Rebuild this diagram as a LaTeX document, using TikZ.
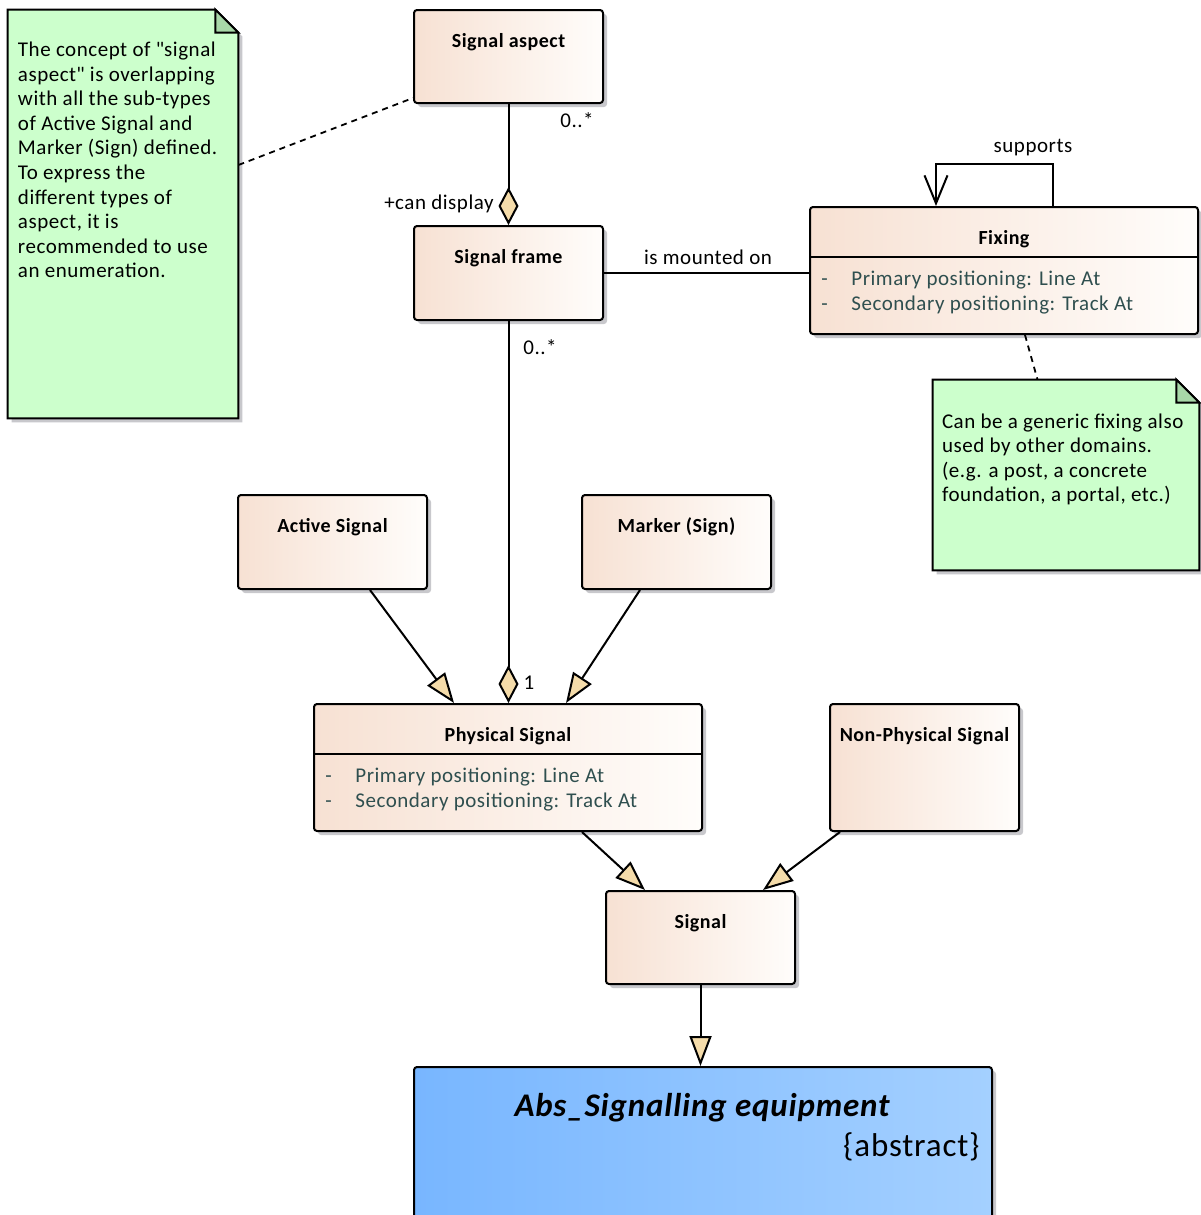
\documentclass[tikz,border=0pt]{standalone}
\usepackage{fontspec}
\setmainfont{Carlito}[LetterSpace=2.5]
\usetikzlibrary{arrows.meta,positioning,fit,calc,shadows}
\definecolor{clsleft}{HTML}{F7E1D3}
\definecolor{clsright}{HTML}{FFFDFB}
\definecolor{absleft}{HTML}{78B6FF}
\definecolor{absright}{HTML}{A4D0FF}
\definecolor{notegreen}{HTML}{CCFFCC}
\definecolor{notefold}{HTML}{A8D8A8}
\definecolor{tipfill}{HTML}{F5DCAA}
\definecolor{attrtxt}{HTML}{2F4F4F}
\definecolor{shade}{HTML}{C8C8CC}

\begin{document}
\begin{tikzpicture}[x=0.5pt,y=-0.5pt,font=\fontsize{10.5}{12.3}\selectfont,
cls/.style={rounded corners=1.5pt,draw=black,line width=1pt,left color=clsleft,right color=clsright,inner sep=0pt,
  drop shadow={shadow xshift=2pt,shadow yshift=-2pt,opacity=1,fill=shade}},
ttl/.style={font=\fontsize{10}{12}\selectfont\bfseries,anchor=base,yshift=-19pt},
attr/.style={align=left,inner sep=0pt,anchor=north west,text=attrtxt,font=\fontsize{10.5}{12.5}\selectfont},
paper/.style={fill=notegreen,draw=black,line width=1pt,drop shadow={shadow xshift=2pt,shadow yshift=-2pt,opacity=1,fill=shade}},
fold/.style={fill=notefold,draw=black,line width=1pt},
memo/.style={align=left,inner sep=0pt,anchor=north west},
link/.style={line width=1pt},
agg/.style={link,-{Diamond[length=19pt,width=10pt,fill=tipfill]}},
gen/.style={link,-{Triangle[length=15pt,width=11pt,fill=tipfill]}},
nav/.style={link,-{Straight Barb[length=14pt,width=11.5pt]}},
noteline/.style={line width=0.9pt,dash pattern=on 3pt off 2.5pt},
role/.style={inner sep=0pt}]
  \fill[white] (0,0) rectangle (1200,1215);
  \useasboundingbox (0,0) rectangle (1200,1215);

  \node[cls,fit={(414,10)(603,103)},label={[ttl]north:Signal aspect}] (aspect) {};
  \node[cls,fit={(414,226)(603,320)},label={[ttl]north:Signal frame}] (frame) {};
  \node[cls,fit={(810,207)(1198,334)},label={[ttl]north:Fixing}] (fixing) {};
  \node[cls,fit={(238,495)(427,589)},label={[ttl]north:Active Signal}] (active) {};
  \node[cls,fit={(582,495)(771,589)},label={[ttl]north:Marker (Sign)}] (marker) {};
  \node[cls,fit={(314,704)(702,831)},label={[ttl]north:Physical Signal}] (phys) {};
  \node[cls,fit={(830,704)(1019,831)},label={[ttl]north:Non-Physical Signal}] (nonphys) {};
  \node[cls,fit={(606,891)(795,984)},label={[ttl]north:Signal}] (signal) {};
  \node[cls,left color=absleft,right color=absright,fit={(414,1067)(992,1250)}] (equipment) {};

  \draw[line width=1pt] ([yshift=-25.5pt]fixing.north west) -- ([yshift=-25.5pt]fixing.north east);
  \draw[line width=1pt] ([yshift=-25.5pt]phys.north west) -- ([yshift=-25.5pt]phys.north east);
  \node[attr] (fixingattr) at ([shift={(6pt,-32.5pt)}]fixing.north west) {\makebox[15pt][l]{-}Primary positioning: Line At\\\makebox[15pt][l]{-}Secondary positioning: Track At};
  \node[attr] (physattr) at ([shift={(6pt,-32.5pt)}]phys.north west) {\makebox[15pt][l]{-}Primary positioning: Line At\\\makebox[15pt][l]{-}Secondary positioning: Track At};

  \node[font=\fontsize{16.5}{19}\selectfont\bfseries\itshape,anchor=base,inner sep=0pt] (equiptitle) at (702,1116) {Abs\_Signalling equipment};
  \node[font=\fontsize{16.5}{19}\selectfont,anchor=base east,inner sep=0pt] (equipstereo) at (980,1156) {\{abstract\}};

  \node[fit={(8,10)(238,418)},inner sep=0pt] (aspectnote) {};
  \path[paper] (aspectnote.north west) -- ([xshift=-11.5pt]aspectnote.north east) -- ([yshift=-11.5pt]aspectnote.north east) -- (aspectnote.south east) -- (aspectnote.south west) -- cycle;
  \path[fold] ([xshift=-11.5pt]aspectnote.north east) |- ([yshift=-11.5pt]aspectnote.north east) -- cycle;
  \node[memo] (aspecttext) at ([shift={(5pt,-16pt)}]aspectnote.north west) {The concept of \textquotedbl signal\\aspect\textquotedbl{} is overlapping\\with all the sub-types\\of Active Signal and\\Marker (Sign) defined.\\To express the\\different types of\\aspect, it is\\recommended to use\\an enumeration.};

  \node[fit={(933,380)(1199,570)},inner sep=0pt] (fixingnote) {};
  \path[paper] (fixingnote.north west) -- ([xshift=-11.5pt]fixingnote.north east) -- ([yshift=-11.5pt]fixingnote.north east) -- (fixingnote.south east) -- (fixingnote.south west) -- cycle;
  \path[fold] ([xshift=-11.5pt]fixingnote.north east) |- ([yshift=-11.5pt]fixingnote.north east) -- cycle;
  \node[memo] (fixingtext) at ([shift={(4.5pt,-16.75pt)}]fixingnote.north west) {Can be a generic fixing also\\used by other domains.\\(e.g. a post, a concrete\\foundation, a portal, etc.)};

  \draw[noteline] ([yshift=24.5pt]aspectnote.east) -- ([yshift=3pt]aspect.south west);
  \draw[noteline] ([xshift=10.5pt]fixing.south) -- ([xshift=-14.25pt]fixingnote.north);

  \draw[agg] (aspect.south) -- (aspect.south |- frame.north);
  \draw[agg] (frame.south) -- (frame.south |- phys.north);
  \draw[link] (frame.east) -- (frame.east -| fixing.west);
  \draw[nav] ([xshift=24.5pt]fixing.north) -- ++(0,-42) -| ([xshift=-34pt]fixing.north);
  \draw[gen] ([xshift=18.75pt]active.south) -- ([xshift=-27pt]phys.north);
  \draw[gen] ([xshift=-18.25pt]marker.south) -- ([xshift=29pt]phys.north);
  \draw[gen] ([xshift=37pt]phys.south) -- ([xshift=-27.75pt]signal.north);
  \draw[gen] ([xshift=-42.25pt]nonphys.south) -- ([xshift=31.25pt]signal.north);
  \draw[gen] (signal.south) -- (signal.south |- equipment.north);

  \node[role] (aspectmult) at (577,120) {0..*};
  \node[role,anchor=east] (displayrole) at (494,204) {+can display};
  \node[role] (framemult) at (540,347) {0..*};
  \node[role] (physmult) at (529,683) {1};
  \node[role] (mountlabel) at (708,257) {is mounted on};
  \node[role] (supportlabel) at (1033,148) {supports};
\end{tikzpicture}
\end{document}
